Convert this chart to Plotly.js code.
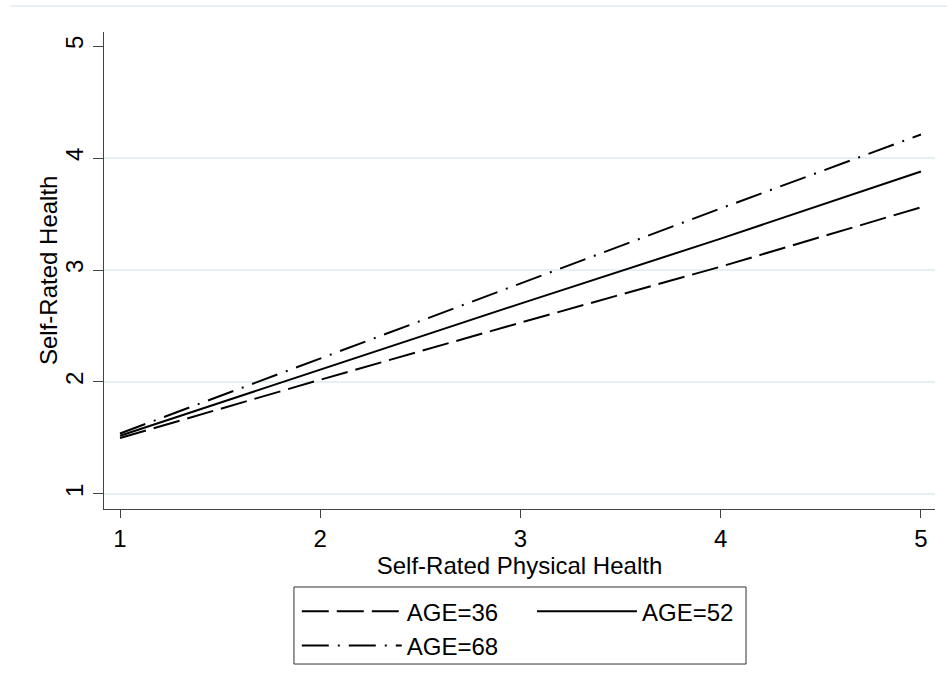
<!DOCTYPE html>
<html>
<head>
<meta charset="utf-8">
<script src="https://cdn.plot.ly/plotly-3.0.1.min.js"></script>
<style>html,body{margin:0;padding:0;background:#fff;}#chart{width:947px;height:696px;}</style>
</head>
<body>
<div id="chart"></div>
<script>
var physicalHealth = [1, 2, 3, 4, 5];
var age36 = [1.50, 2.02, 2.53, 3.03, 3.56];
var age52 = [1.52, 2.11, 2.70, 3.28, 3.88];
var age68 = [1.54, 2.21, 2.88, 3.55, 4.21];
var xTicks = [1, 2, 3, 4, 5];
var yTicks = [1, 2, 3, 4, 5];
var gridTicks = [1, 2, 3, 4];
var xTitle = 'Self-Rated Physical Health';
var yTitle = 'Self-Rated Health';

var FONT = 'Liberation Sans, Arial, sans-serif';
var FS = 24;

var traces = [
  {x: physicalHealth, y: age36, type: 'scatter', mode: 'lines', name: 'AGE=36',
   line: {color: '#000', width: 2, dash: '27px,8px'}, legend: 'legend', legendgroup: 'a', legendrank: 1},
  {x: physicalHealth, y: age52, type: 'scatter', mode: 'lines', name: 'AGE=52',
   line: {color: '#000', width: 2}, legend: 'legend2', legendgroup: 'b'},
  {x: physicalHealth, y: age68, type: 'scatter', mode: 'lines', name: 'AGE=68',
   line: {color: '#000', width: 2, dash: '27px,9px,2px,9px'}, legend: 'legend', legendgroup: 'c', legendrank: 2},
  {x: [physicalHealth[0]], y: [age52[0]], type: 'scatter', mode: 'none', showlegend: false, yaxis: 'y2', hoverinfo: 'skip'}
];

var layout = {
  width: 947, height: 696,
  paper_bgcolor: '#fff', plot_bgcolor: '#fff',
  margin: {l: 104, r: 12, t: 32, b: 187},
  font: {family: FONT, size: FS, color: '#000'},
  xaxis: {
    range: [0.92, 5.07], tickvals: xTicks, ticktext: xTicks.map(String),
    showgrid: false, zeroline: false, showline: true, linecolor: '#444', linewidth: 1,
    ticks: 'outside', ticklen: 8, tickcolor: '#444', tickwidth: 1,
    tickfont: {family: FONT, size: FS, color: '#000'},
    title: {text: xTitle, font: {family: FONT, size: FS, color: '#000'}, standoff: 0}
  },
  yaxis: {
    range: [0.866, 5.125], tickvals: yTicks, ticktext: yTicks.map(String), tickangle: -90,
    showgrid: false, zeroline: false, showline: true, linecolor: '#444', linewidth: 1,
    ticks: 'outside', ticklen: 10, tickcolor: '#444', tickwidth: 1, ticklabelstandoff: 0,
    tickfont: {family: FONT, size: FS, color: '#000'}
  },
  yaxis2: {
    overlaying: 'y', matches: 'y', range: [0.866, 5.125], tickvals: gridTicks, showticklabels: false,
    showgrid: true, gridcolor: '#e6eff1', gridwidth: 2, zeroline: false, showline: false, ticks: ''
  },
  annotations: [
    {text: yTitle, xref: 'paper', yref: 'paper', x: -0.0674, y: 0.501, xanchor: 'center', yanchor: 'middle',
     textangle: -90, showarrow: false, font: {family: FONT, size: FS, color: '#000'}}
  ],
  showlegend: true,
  legend: {
    x: 0.232, y: -0.168, xanchor: 'left', yanchor: 'top', orientation: 'v',
    bgcolor: 'rgba(0,0,0,0)', borderwidth: 0, itemwidth: 100, tracegroupgap: 0,
    traceorder: 'grouped', font: {family: FONT, size: FS, color: '#000'}
  },
  legend2: {
    x: 0.515, y: -0.168, xanchor: 'left', yanchor: 'top', orientation: 'v',
    bgcolor: 'rgba(0,0,0,0)', borderwidth: 0, itemwidth: 100,
    font: {family: FONT, size: FS, color: '#000'}
  },
  shapes: [
    {type: 'rect', xref: 'paper', yref: 'paper', x0: 0.2286, x1: 0.7726, y0: -0.325, y1: -0.1635,
     line: {color: '#333', width: 1}, fillcolor: 'rgba(0,0,0,0)'},
    {type: 'line', xref: 'paper', yref: 'paper', x0: -0.112, x1: 1.02, y0: 1.0545, y1: 1.0545,
     line: {color: '#e6eff1', width: 2}}
  ]
};

Plotly.newPlot('chart', traces, layout, {displayModeBar: false, staticPlot: true});
</script>
</body>
</html>
